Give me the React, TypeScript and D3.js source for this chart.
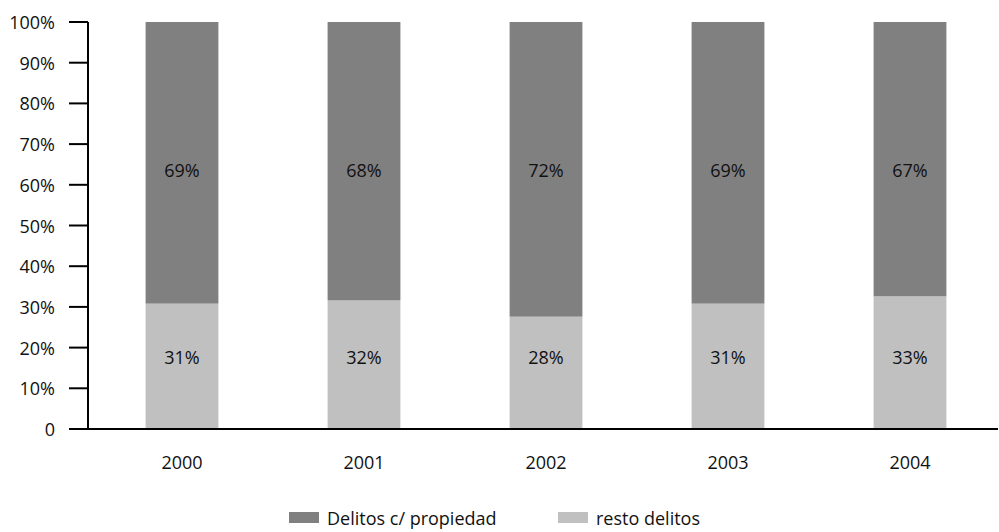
import React from "react";
import * as d3 from "d3";

const years = ["2000", "2001", "2002", "2003", "2004"];
const resto = [30.8, 31.6, 27.6, 30.8, 32.6];
const propiedad = [69.2, 68.4, 72.4, 69.2, 67.4];
const yTicks = [0, 10, 20, 30, 40, 50, 60, 70, 80, 90, 100];
const seriesNames = ["Delitos c/ propiedad", "resto delitos"];

const W = 999;
const H = 532;
const DARK = "#808080";
const LIGHT = "#c0c0c0";
const FONT = "'Open Sans', sans-serif";
const FS = 18;

export default function App() {
  const x = d3.scaleBand<string>().domain(years).range([91, 1001]).paddingInner(0.6).paddingOuter(0.3);
  const y = d3.scaleLinear().domain([0, 100]).range([429, 22]);
  const bw = x.bandwidth();

  return (
    <svg width={W} height={H} style={{ position: "absolute", left: 0, top: 0, background: "#fff" }} fontFamily={FONT}>
      {years.map((yr, i) => {
        const cx = (x(yr) as number) + bw / 2;
        return (
          <g key={yr}>
            <rect x={x(yr)} y={y(resto[i])} width={bw} height={y(0) - y(resto[i])} fill={LIGHT} />
            <rect x={x(yr)} y={y(resto[i] + propiedad[i])} width={bw} height={y(resto[i]) - y(resto[i] + propiedad[i])} fill={DARK} />
            <text x={cx} y={y(63.6)} textAnchor="middle" dominantBaseline="central" fontSize={FS} fill="#111">
              {Math.round(propiedad[i])}%
            </text>
            <text x={cx} y={y(17.7)} textAnchor="middle" dominantBaseline="central" fontSize={FS} fill="#111">
              {Math.round(resto[i])}%
            </text>
            <text x={cx} y={462} textAnchor="middle" dominantBaseline="central" fontSize={FS} fill="#111">
              {yr}
            </text>
          </g>
        );
      })}
      <line x1={88} x2={88} y1={y(100)} y2={y(0)} stroke="#000" strokeWidth={2} />
      <line x1={69} x2={998} y1={y(0)} y2={y(0)} stroke="#000" strokeWidth={2} />
      {yTicks.map((t) => (
        <g key={t}>
          <line x1={69} x2={88} y1={y(t)} y2={y(t)} stroke="#000" strokeWidth={2} />
          <text x={55} y={y(t)} textAnchor="end" dominantBaseline="central" fontSize={FS} fill="#111">
            {t === 0 ? "0" : `${t}%`}
          </text>
        </g>
      ))}
      <rect x={289} y={512} width={30} height={11} fill={DARK} />
      <text x={327} y={518} dominantBaseline="central" fontSize={FS} fill="#111">{seriesNames[0]}</text>
      <rect x={558} y={512} width={30} height={11} fill={LIGHT} />
      <text x={596} y={518} dominantBaseline="central" fontSize={FS} fill="#111">{seriesNames[1]}</text>
    </svg>
  );
}
